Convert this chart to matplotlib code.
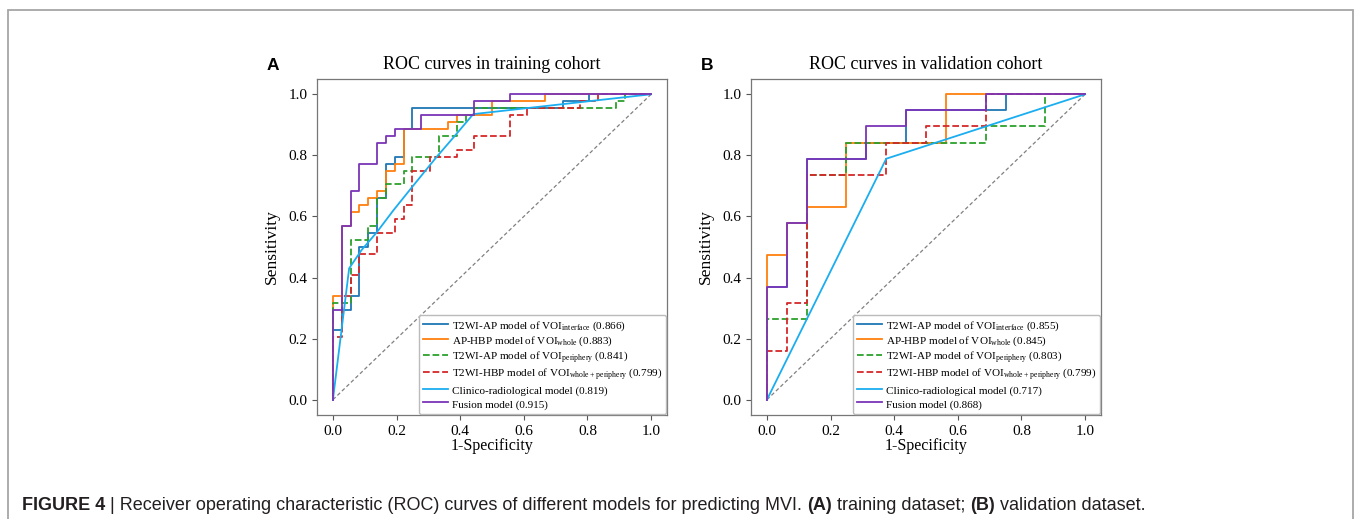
import matplotlib

matplotlib.use("Agg")
import matplotlib.pyplot as plt
from matplotlib.patches import Rectangle

plt.rcParams["font.family"] = ["Liberation Serif", "DejaVu Serif"]
plt.rcParams["mathtext.fontset"] = "custom"
plt.rcParams["mathtext.rm"] = "Liberation Serif"

# ---- training cohort (panel A): ROC corner points ----
A_interface_fpr = [0, 0, 0.028, 0.028, 0.056, 0.056, 0.083, 0.083, 0.111, 0.111, 0.139, 0.139,
                   0.167, 0.167, 0.194, 0.194, 0.222, 0.222, 0.25, 0.25, 0.722, 0.722, 0.806, 0.806, 1]
A_interface_tpr = [0, 0.227, 0.227, 0.295, 0.295, 0.341, 0.341, 0.5, 0.5, 0.545, 0.545, 0.659,
                   0.659, 0.773, 0.773, 0.795, 0.795, 0.886, 0.886, 0.955, 0.955, 0.977, 0.977, 1, 1]
A_whole_fpr = [0, 0, 0.028, 0.028, 0.056, 0.056, 0.083, 0.083, 0.111, 0.111, 0.139, 0.139,
               0.167, 0.167, 0.194, 0.194, 0.222, 0.222, 0.361, 0.361, 0.389, 0.389, 0.5, 0.5, 0.667, 0.667, 1]
A_whole_tpr = [0, 0.341, 0.341, 0.568, 0.568, 0.614, 0.614, 0.636, 0.636, 0.659, 0.659, 0.682,
               0.682, 0.75, 0.75, 0.773, 0.773, 0.886, 0.886, 0.909, 0.909, 0.932, 0.932, 0.977, 0.977, 1, 1]
A_periph_fpr = [0, 0, 0.056, 0.056, 0.111, 0.111, 0.139, 0.139, 0.167, 0.167, 0.222, 0.222,
                0.25, 0.25, 0.333, 0.333, 0.389, 0.389, 0.417, 0.417, 0.444, 0.444, 0.889, 0.889, 0.917, 0.917, 1]
A_periph_tpr = [0, 0.318, 0.318, 0.523, 0.523, 0.568, 0.568, 0.659, 0.659, 0.705, 0.705, 0.75,
                0.75, 0.795, 0.795, 0.864, 0.864, 0.909, 0.909, 0.932, 0.932, 0.955, 0.955, 0.977, 0.977, 1, 1]
A_combo_fpr = [0, 0, 0.028, 0.028, 0.056, 0.056, 0.083, 0.083, 0.139, 0.139, 0.194, 0.194,
               0.222, 0.222, 0.25, 0.25, 0.306, 0.306, 0.389, 0.389, 0.444, 0.444, 0.556, 0.556,
               0.611, 0.611, 0.778, 0.778, 0.833, 0.833, 1]
A_combo_tpr = [0, 0.205, 0.205, 0.341, 0.341, 0.409, 0.409, 0.477, 0.477, 0.545, 0.545, 0.591,
               0.591, 0.636, 0.636, 0.75, 0.75, 0.795, 0.795, 0.818, 0.818, 0.864, 0.864, 0.932,
               0.932, 0.955, 0.955, 0.977, 0.977, 1, 1]
A_clinic_fpr = [0, 0.051, 0.09, 0.137, 0.19, 0.251, 0.326, 0.38, 0.441, 1]
A_clinic_tpr = [0, 0.43, 0.49, 0.547, 0.62, 0.699, 0.795, 0.86, 0.935, 1]
A_fusion_fpr = [0, 0, 0.028, 0.028, 0.056, 0.056, 0.083, 0.083, 0.139, 0.139, 0.167, 0.167,
                0.194, 0.194, 0.278, 0.278, 0.444, 0.444, 0.556, 0.556, 1]
A_fusion_tpr = [0, 0.295, 0.295, 0.568, 0.568, 0.682, 0.682, 0.773, 0.773, 0.841, 0.841, 0.864,
                0.864, 0.886, 0.886, 0.932, 0.932, 0.977, 0.977, 1, 1]
A_auc = ["0.866", "0.883", "0.841", "0.799", "0.819", "0.915"]

# ---- validation cohort (panel B) ----
B_interface_fpr = [0, 0, 0.0625, 0.0625, 0.125, 0.125, 0.3125, 0.3125, 0.4375, 0.4375, 0.75, 0.75, 1]
B_interface_tpr = [0, 0.368, 0.368, 0.579, 0.579, 0.789, 0.789, 0.842, 0.842, 0.947, 0.947, 1, 1]
B_whole_fpr = [0, 0, 0.0625, 0.0625, 0.125, 0.125, 0.25, 0.25, 0.5625, 0.5625, 1]
B_whole_tpr = [0, 0.474, 0.474, 0.579, 0.579, 0.632, 0.632, 0.842, 0.842, 1, 1]
B_periph_fpr = [0, 0, 0.125, 0.125, 0.25, 0.25, 0.6875, 0.6875, 0.875, 0.875, 1]
B_periph_tpr = [0, 0.263, 0.263, 0.737, 0.737, 0.842, 0.842, 0.895, 0.895, 1, 1]
B_combo_fpr = [0, 0, 0.0625, 0.0625, 0.125, 0.125, 0.375, 0.375, 0.5, 0.5, 0.6875, 0.6875, 1]
B_combo_tpr = [0, 0.158, 0.158, 0.316, 0.316, 0.737, 0.737, 0.842, 0.842, 0.895, 0.895, 1, 1]
B_clinic_fpr = [0, 0.375, 1]
B_clinic_tpr = [0, 0.789, 1]
B_fusion_fpr = [0, 0, 0.0625, 0.0625, 0.125, 0.125, 0.3125, 0.3125, 0.4375, 0.4375, 0.6875, 0.6875, 1]
B_fusion_tpr = [0, 0.368, 0.368, 0.579, 0.579, 0.789, 0.789, 0.895, 0.895, 0.947, 0.947, 1, 1]
B_auc = ["0.855", "0.845", "0.803", "0.799", "0.717", "0.868"]

model_names = [
    "T2WI-AP model of VOI$_{\\mathrm{interface}}$",
    "AP-HBP model of VOI$_{\\mathrm{whole}}$",
    "T2WI-AP model of VOI$_{\\mathrm{periphery}}$",
    "T2WI-HBP model of VOI$_{\\mathrm{whole+periphery}}$",
    "Clinico-radiological model",
    "Fusion model",
]
colors = ["#1f77b4", "#ff7f0e", "#2ca02c", "#d62728", "#1aaef0", "#7b35b8"]
styles = ["-", "-", "--", "--", "-", "-"]

panels = [
    ("A", "ROC curves in training cohort",
     [(A_interface_fpr, A_interface_tpr), (A_whole_fpr, A_whole_tpr), (A_periph_fpr, A_periph_tpr),
      (A_combo_fpr, A_combo_tpr), (A_clinic_fpr, A_clinic_tpr), (A_fusion_fpr, A_fusion_tpr)], A_auc),
    ("B", "ROC curves in validation cohort",
     [(B_interface_fpr, B_interface_tpr), (B_whole_fpr, B_whole_tpr), (B_periph_fpr, B_periph_tpr),
      (B_combo_fpr, B_combo_tpr), (B_clinic_fpr, B_clinic_tpr), (B_fusion_fpr, B_fusion_tpr)], B_auc),
]

W, H = 1354, 519
fig = plt.figure(figsize=(W / 100, H / 100), dpi=100)

# outer figure frame (runs past the bottom edge)
fig.add_artist(Rectangle((8 / W, -0.1), (1353 - 8) / W, 1.1 - 10 / H, transform=fig.transFigure,
                         fill=False, edgecolor="#a6a6a6", lw=1.3))

lefts = [317, 751]
for (tag, title, curves, aucs), left in zip(panels, lefts):
    ax = fig.add_axes([left / W, (H - 415) / H, 350 / W, 336 / H])
    ax.plot([0, 1], [0, 1], color="#808080", lw=0.9, ls=(0, (3, 2)))
    for (fpr, tpr), name, auc, c, ls in zip(curves, model_names, aucs, colors, styles):
        ax.plot(fpr, tpr, color=c, ls=ls, lw=1.3, label=f"{name} ({auc})")
    ax.set_xlim(-0.05, 1.05)
    ax.set_ylim(-0.05, 1.05)
    ax.set_xticks([0, 0.2, 0.4, 0.6, 0.8, 1.0])
    ax.set_yticks([0, 0.2, 0.4, 0.6, 0.8, 1.0])
    ax.tick_params(labelsize=11, color="#555555", length=3.5, width=0.8)
    for sp in ax.spines.values():
        sp.set_color("#777777")
        sp.set_linewidth(0.9)
    ax.set_xlabel("1-Specificity", fontsize=11.5, labelpad=0)
    ax.set_ylabel("Sensitivity", fontsize=12.5, labelpad=6)
    ax.set_title(title, fontsize=13, pad=7)
    leg = ax.legend(loc="lower right", fontsize=8.0, handlelength=2.3, handleheight=1.4,
                    labelspacing=0.07, borderpad=0.35, handletextpad=0.3, borderaxespad=0.1,
                    framealpha=1)
    leg.get_frame().set_edgecolor("#bbbbbb")
    fig.text((left - 50) / W, 1 - 66 / H, tag, family="Liberation Sans", weight="bold",
             fontsize=12.5, va="center")

# caption, drawn piece by piece so the bold parts sit inline
pieces = [("FIGURE 4", "bold"), (" | Receiver operating characteristic (ROC) curves of different models "
                                 "for predicting MVI. ", "normal"),
          ("(A)", "bold"), (" training dataset; ", "normal"), ("(B)", "bold"),
          (" validation dataset.", "normal")]
renderer = fig.canvas.get_renderer()
x = 22 / W
for txt, wt in pieces:
    t = fig.text(x, 1 - 505 / H, txt, family="Liberation Sans", weight=wt, fontsize=13,
                 color="#231f20", va="center")
    bb = t.get_window_extent(renderer)
    x += bb.width / W

fig.savefig("out.png", dpi=100)
